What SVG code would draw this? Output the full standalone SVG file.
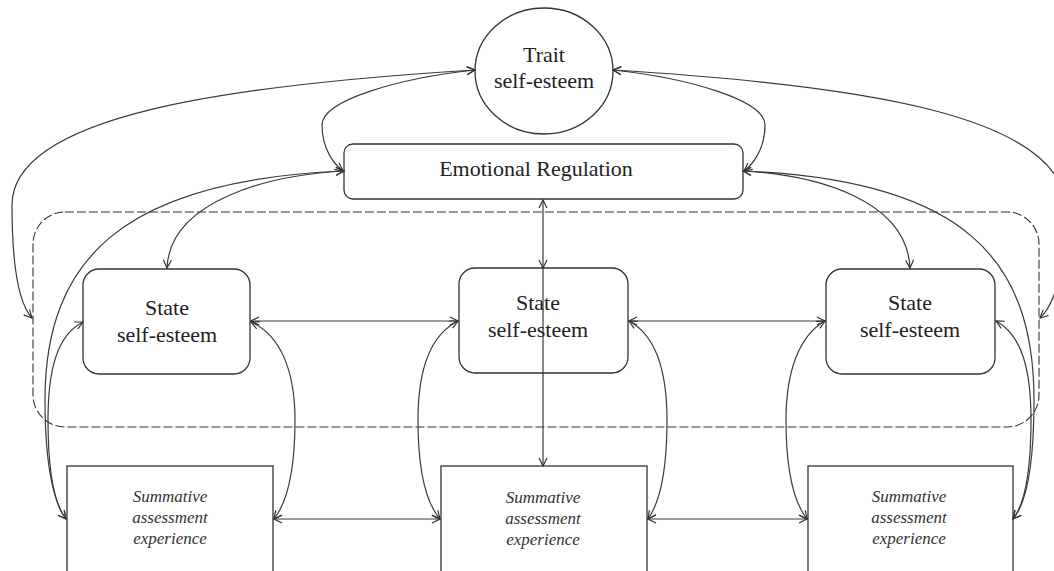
<svg xmlns="http://www.w3.org/2000/svg" width="1054" height="571" viewBox="0 0 1054 571">
<style>
.box{fill:none;stroke:#333;stroke-width:1.3}
.t{font-family:"Liberation Serif","Times New Roman",serif;font-size:22px;fill:#222;text-anchor:middle}
.s{font-family:"Liberation Serif","Times New Roman",serif;font-size:17px;font-style:italic;fill:#333;text-anchor:middle}
.c{fill:none;stroke:#3a3a3a;stroke-width:1.2;marker-start:url(#a);marker-end:url(#a)}
.c1{fill:none;stroke:#3a3a3a;stroke-width:1.2;marker-end:url(#a)}
.dash{fill:none;stroke:#333;stroke-width:1.1;stroke-dasharray:9 3}
</style>
<defs>
<marker id="a" viewBox="0 0 10 10" refX="9" refY="5" markerWidth="10" markerHeight="10" markerUnits="userSpaceOnUse" orient="auto-start-reverse">
<path d="M1,1 L9,5 L1,9" fill="none" stroke="#333" stroke-width="1.2"/>
</marker>
</defs>
<rect width="1054" height="571" fill="#fff"/>
<rect id="group-frame" class="dash" x="33" y="212" width="1006" height="215" rx="32" ry="32"/>
<g id="trait">
<ellipse class="box" cx="544" cy="71" rx="69" ry="63"/>
<text class="t" x="544" y="62">Trait</text>
<text class="t" x="544" y="88">self-esteem</text>
</g>
<g id="emotional-regulation">
<rect class="box" x="344" y="144" width="399" height="55" rx="9"/>
<text class="t" x="536" y="176">Emotional Regulation</text>
</g>
<g id="state1">
<rect class="box" x="83" y="269" width="167" height="105" rx="16"/>
<text class="t" x="167" y="315">State</text>
<text class="t" x="167" y="342">self-esteem</text>
</g>
<g id="state2">
<rect class="box" x="459" y="268" width="169" height="105" rx="16"/>
<text class="t" x="538" y="310">State</text>
<text class="t" x="538" y="337">self-esteem</text>
</g>
<g id="state3">
<rect class="box" x="826" y="269" width="169" height="105" rx="16"/>
<text class="t" x="910" y="310">State</text>
<text class="t" x="910" y="337">self-esteem</text>
</g>
<g id="summative1">
<rect class="box" x="67" y="466" width="206" height="130"/>
<text class="s" x="170" y="502">Summative</text>
<text class="s" x="170" y="523">assessment</text>
<text class="s" x="170" y="544">experience</text>
</g>
<g id="summative2">
<rect class="box" x="441" y="466" width="206" height="130"/>
<text class="s" x="543" y="503">Summative</text>
<text class="s" x="543" y="524">assessment</text>
<text class="s" x="543" y="545">experience</text>
</g>
<g id="summative3">
<rect class="box" x="808" y="466" width="205" height="130"/>
<text class="s" x="909" y="502">Summative</text>
<text class="s" x="909" y="523">assessment</text>
<text class="s" x="909" y="544">experience</text>
</g>
<g id="connectors">
<path class="c" d="M475,70 C230,85 12,115 12,205 C12,270 20,305 32,318"/>
<path class="c" d="M613,70 C860,85 1066,115 1066,210 C1066,270 1054,305 1040,318"/>
<path class="c" d="M475,70 C400,78 322,100 322,125 C322,150 335,165 343,171"/>
<path class="c" d="M613,70 C688,78 765,100 765,125 C765,150 752,165 744,171"/>
<path class="c" d="M344,171 C270,175 170,200 167,268"/>
<path class="c" d="M743,171 C817,175 907,200 910,268"/>
<path class="c" d="M344,171 C122,180 45,260 45,400 C45,470 55,505 66,519"/>
<path class="c" d="M743,171 C965,180 1034,260 1034,400 C1034,470 1025,505 1013,519"/>
<path class="c" d="M543,200 L543,268"/>
<path class="c1" d="M543,268 L543,466"/>
<path class="c" d="M251,321 L458,321"/>
<path class="c" d="M629,321 L825,321"/>
<path class="c" d="M274,519 L440,519"/>
<path class="c" d="M648,519 L807,519"/>
<path class="c" d="M83,322 C57,335 48,370 48,420 C48,475 55,505 66,519"/>
<path class="c" d="M251,322 C280,335 295,370 295,420 C295,475 285,505 274,519"/>
<path class="c" d="M458,321 C430,335 418,370 418,420 C418,475 428,505 440,519"/>
<path class="c" d="M629,321 C655,335 667,370 667,420 C667,475 658,505 648,519"/>
<path class="c" d="M825,321 C800,335 786,370 786,420 C786,475 796,505 807,519"/>
<path class="c" d="M996,321 C1022,335 1031,370 1031,420 C1031,475 1024,505 1013,519"/>
</g>
</svg>
